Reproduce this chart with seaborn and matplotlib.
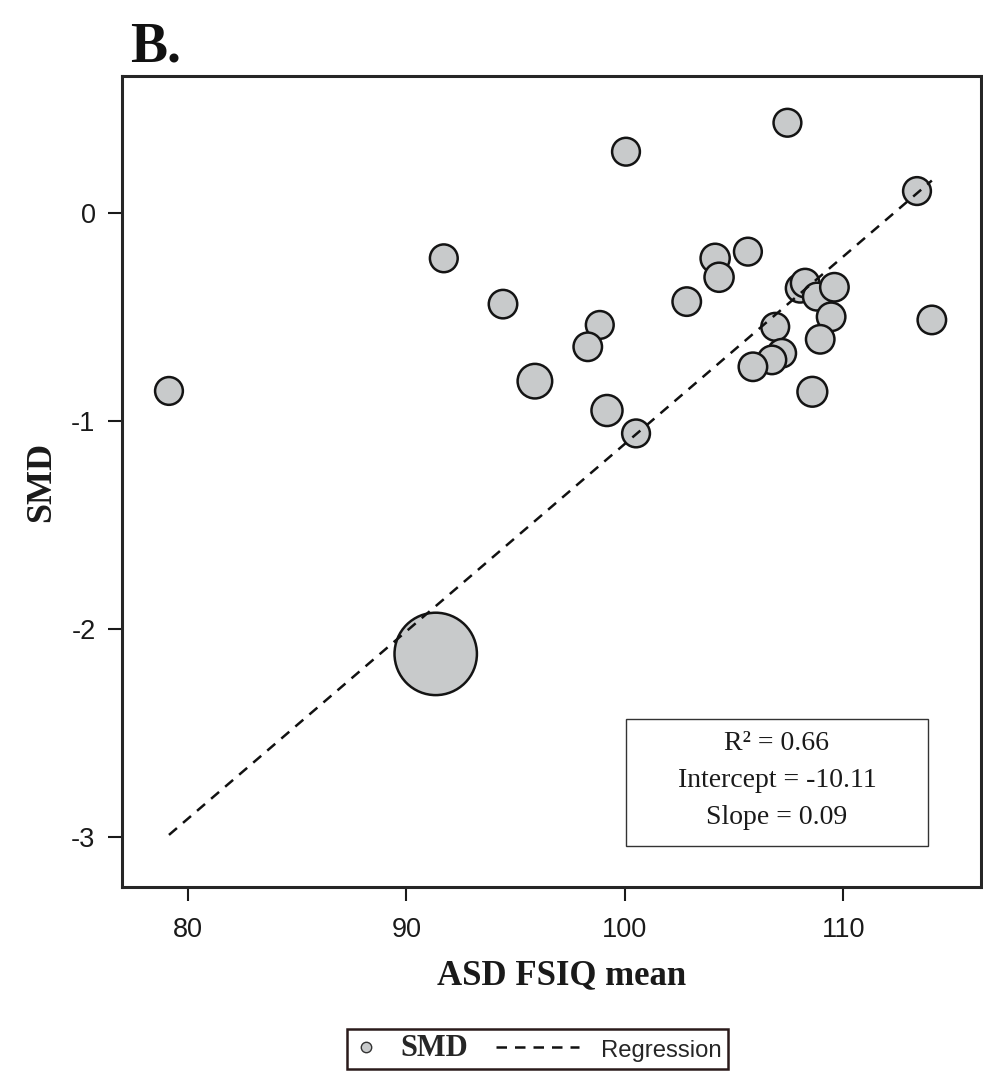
import numpy as np
import pandas as pd
import matplotlib
matplotlib.use("Agg")
import matplotlib.pyplot as plt
import seaborn as sns
from matplotlib.lines import Line2D
from matplotlib.legend_handler import HandlerLine2D
from matplotlib.patches import Rectangle

# ---------------- data ----------------
fsiq_mean = [79.13, 91.71, 94.42, 95.88, 98.85, 98.30, 99.18, 100.05, 100.51,
             102.83, 104.13, 104.31, 105.63, 107.44, 106.88, 107.18, 106.73,
             105.86, 108.58, 108.02, 108.25, 108.79, 109.59, 109.44, 108.94,
             114.05, 113.37, 91.34]
smd = [-0.856, -0.219, -0.439, -0.809, -0.539, -0.644, -0.950, 0.293, -1.060,
       -0.427, -0.219, -0.310, -0.187, 0.432, -0.548, -0.675, -0.707,
       -0.740, -0.860, -0.363, -0.338, -0.403, -0.358, -0.500, -0.608,
       -0.515, 0.104, -2.119]
weight = [1.0, 1.0, 1.05, 1.55, 1.0, 1.05, 1.25, 1.0, 1.0,
          1.05, 1.1, 1.1, 1.0, 1.0, 1.0, 1.05, 1.05,
          1.05, 1.15, 1.05, 1.05, 1.0, 1.05, 1.05, 1.05,
          1.05, 1.0, 8.8]

r_squared = 0.66
intercept = -10.11
slope = 0.09

x_ticks = [80, 90, 100, 110]
y_ticks = [-3, -2, -1, 0]
panel_label = "B."
x_label = "ASD FSIQ mean"
y_label = "SMD"
legend_labels = ["SMD", "Regression"]

df = pd.DataFrame({"fsiq": fsiq_mean, "smd": smd, "weight": weight})

# ---------------- style ----------------
sns.set_style("ticks")
plt.rcParams["font.family"] = ["Liberation Sans", "DejaVu Sans"]
plt.rcParams["axes.unicode_minus"] = False

W, H = 983, 1078
fig = plt.figure(figsize=(W / 100, H / 100), dpi=100)
fig.patch.set_facecolor("white")

ax_l, ax_r, ax_t, ax_b = 122, 981, 75.7, 886.7
ax = fig.add_axes([ax_l / W, 1 - ax_b / H, (ax_r - ax_l) / W, (ax_b - ax_t) / H])
ax.set_facecolor("white")

fill = "#c8cacb"
edge = "#141414"
dash = (0, (4.2, 3.2))

sns.scatterplot(data=df, x="fsiq", y="smd", size="weight",
                sizes=(400, 3520), size_norm=(1.0, 8.8),
                color=fill, edgecolor=edge, linewidth=1.8,
                legend=False, ax=ax, zorder=3)

reg_x = np.array([min(fsiq_mean), max(fsiq_mean)])
reg_y = intercept + slope * reg_x
sns.lineplot(x=reg_x, y=reg_y, ax=ax, color="#111111", lw=1.8,
             linestyle=dash, zorder=4)

ax.set_xlim(76.98, 116.3)
ax.set_ylim(-3.237, 0.658)
ax.set_xticks(x_ticks)
ax.set_yticks(y_ticks)
ax.set_xticklabels([str(t) for t in x_ticks])
ax.set_yticklabels([str(t) for t in y_ticks])
ax.tick_params(direction="out", length=10, width=1.5, color="#1a1a1a",
               labelsize=19.5, labelcolor="#1a1a1a")
ax.tick_params(axis="x", pad=12)
ax.tick_params(axis="y", pad=9)

for sp in ax.spines.values():
    sp.set_visible(True)
    sp.set_linewidth(2.2)
    sp.set_color("#262626")

ax.set_xlabel(x_label, fontfamily="Liberation Serif", fontweight="bold",
              fontsize=25, color="#1a1a1a")
ax.set_ylabel(y_label, fontfamily="Liberation Serif", fontweight="bold",
              fontsize=26, color="#1a1a1a")
ax.xaxis.set_label_coords(0.512, -0.090)
ax.yaxis.set_label_coords(-0.074, 0.499)

# annotation box
ax.add_patch(Rectangle((0.5867, 0.0502), 0.3516, 0.1566, transform=ax.transAxes,
                       facecolor="white", edgecolor="#333333", lw=1.0, zorder=5))
ax.text(0.7625, 0.131,
        f"R\u00b2 = {r_squared:.2f}\nIntercept = {intercept:.2f}\nSlope = {slope:.2f}",
        transform=ax.transAxes, ha="center", va="center", multialignment="center",
        fontfamily="Liberation Serif", fontsize=20, linespacing=1.65,
        color="#1a1a1a", zorder=6)

# panel label
fig.text(130 / W, 1 - 62 / H, panel_label, ha="left", va="baseline",
         fontfamily="Liberation Serif", fontweight="bold", fontsize=40,
         color="#111111")


class SmallMarkerHandler(HandlerLine2D):
    def legend_artist(self, legend, orig_handle, fontsize, handlebox):
        handlebox.width = fontsize * 0.9
        return super().legend_artist(legend, orig_handle, fontsize, handlebox)


h_pt = Line2D([], [], marker="o", linestyle="none", markersize=7.5,
              markerfacecolor=fill, markeredgecolor="#333333", markeredgewidth=1.0)
h_ln = Line2D([], [], color="#111111", lw=1.8, linestyle=dash)

leg = fig.legend([h_pt, h_ln], legend_labels, loc="center",
                 bbox_to_anchor=(537.5 / W, 1 - 1049 / H), ncol=2,
                 frameon=True, fancybox=False, framealpha=1,
                 edgecolor="#2a1a1a", fontsize=20, handlelength=3.0,
                 handletextpad=0.8, columnspacing=1.0, borderpad=0.2,
                 handler_map={h_pt: SmallMarkerHandler()})
leg.get_frame().set_linewidth(1.8)
t0, t1 = leg.get_texts()
t0.set_fontfamily("Liberation Serif")
t0.set_fontweight("bold")
t0.set_fontsize(22)
t1.set_fontfamily("Liberation Sans")
t1.set_fontsize(17.2)

fig.savefig("out.png", dpi=100, facecolor="white")
